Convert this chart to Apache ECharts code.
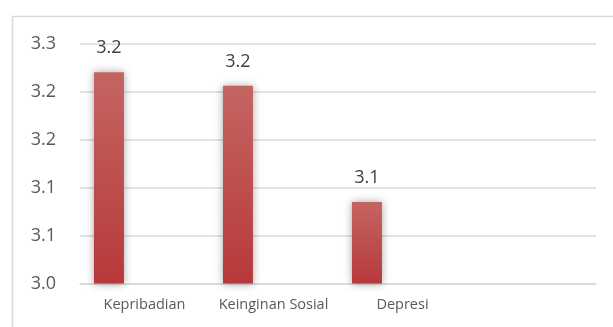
<!DOCTYPE html>
<html><head><meta charset="utf-8">
<script src="https://cdn.jsdelivr.net/npm/echarts@6/dist/echarts.min.js"></script>
<style>html,body{margin:0;padding:0;background:#fff}#c{width:613px;height:327px}</style>
</head><body><div id="c"></div>
<script>
const categories = ['Kepribadian', 'Keinginan Sosial', 'Depresi', ''];
const values = [3.22, 3.206, 3.085, null];
const emptySeries = [null, null, null, null];
const yTickLabels = ['3.0', '3.1', '3.1', '3.2', '3.2', '3.3'];

const chart = echarts.init(document.getElementById('c'), null, {renderer: 'canvas'});
chart.setOption({
  animation: false,
  backgroundColor: '#fff',
  graphic: [{
    type: 'rect', left: 10, top: 14, shape: {width: 700, height: 400},
    style: {fill: 'none', stroke: '#d9d9d9', lineWidth: 1.5}, silent: true, z: -1
  }],
  grid: {left: 80, right: 17, top: 43.5, bottom: 43.5, containLabel: false},
  xAxis: {
    type: 'category', data: categories,
    axisLine: {lineStyle: {color: '#d9d9d9', width: 1.5}},
    axisTick: {show: false},
    axisLabel: {color: '#595959', fontFamily: 'Open Sans', fontSize: 14.5, margin: 14, interval: 0}
  },
  yAxis: {
    type: 'value', min: 3.0, max: 3.25, interval: 0.05,
    axisLine: {show: false}, axisTick: {show: false},
    splitLine: {lineStyle: {color: '#d9d9d9', width: 1.5}},
    axisLabel: {
      color: '#595959', fontFamily: 'Open Sans', fontSize: 18, margin: 24,
      formatter: (v, i) => yTickLabels[i]
    }
  },
  series: [{
    type: 'bar', data: values, barWidth: 30, barGap: '137%',
    itemStyle: {
      color: {type: 'linear', x: 0, y: 0, x2: 0, y2: 1,
        colorStops: [{offset: 0, color: '#c46562'}, {offset: 1, color: '#b7393a'}]},
      shadowBlur: 8, shadowColor: 'rgba(0,0,0,0.35)'
    },
    label: {
      show: true, position: 'top', distance: 15,
      color: '#404040', fontFamily: 'Open Sans', fontSize: 18,
      formatter: p => p.value.toFixed(1)
    }
  }, {
    type: 'bar', data: emptySeries, barWidth: 30
  }]
});
</script></body></html>
